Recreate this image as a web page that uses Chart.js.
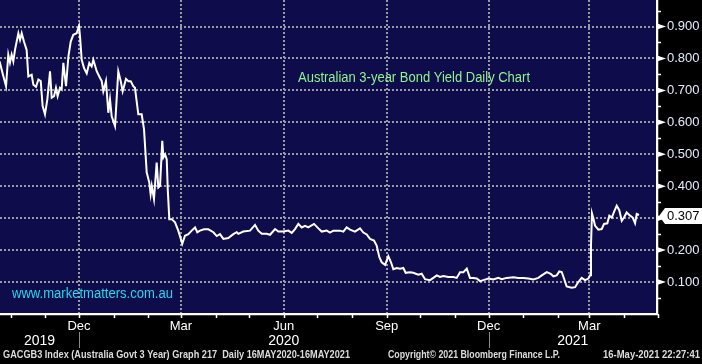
<!DOCTYPE html>
<html><head><meta charset="utf-8">
<script src="https://cdn.jsdelivr.net/npm/chart.js@4"></script>
<style>html,body{margin:0;padding:0;background:#000;}canvas{display:block;}</style>
</head><body>
<canvas id="c" width="702" height="364"></canvas>
<script>
// Days counted from 1 Dec 2019
const days = [-71,-67.6,-65.2,-63.2,-61.7,-60.2,-58.7,-57.2,-54.2,-52.7,-51.2,-49.2,-46.8,-45.3,-42.3,-40.8,-38.4,-36.3,-34.2,-32.5,-30.4,-28.3,-25.9,-24.4,-22.3,-20.6,-19.1,-17.0,-15.5,-14.0,-11.6,-9.5,-7.4,-5.1,-2.1,0,0.9,2.4,4.5,6.9,9.2,11.3,12.8,15.8,18.8,20.3,21.7,24.1,26.2,27.7,29.2,32.2,35.1,37.3,39.0,42.0,44.1,46.2,48.5,50.0,53.0,56.0,58.1,60.5,62.8,64.0,65.0,67.0,69.4,70.9,72.4,74.4,75.4,76.9,78.4,79.3,80.7,82.8,85.8,88.7,92.3,94.7,97.7,100.7,103.7,105.7,108.1,111.7,115.6,120.1,123.1,126.0,129.0,133.4,137.9,140.9,142.4,146.8,152.8,157.3,160.2,163.3,167.7,170.7,175.2,178.1,182.6,187.1,190.1,193.0,196.0,199.0,202.0,204.9,210.0,213.9,216.9,221.4,224.3,227.3,233.2,236.2,239.2,242.2,246.6,251.1,254.1,257.1,260.1,263.6,266.0,268.4,270.5,273.5,276.4,278.8,280.9,283.9,286.9,289.8,291.9,295.8,298.7,303.2,306.2,309.2,313.7,316.6,319.7,322.6,325.6,330.0,334.5,337.5,340.5,343.5,346.5,349.4,352.4,355.4,358.4,361.3,365.8,370.2,374.7,377.7,382.2,388.1,392.6,397.1,401.5,406.0,410.5,413.5,418.0,421.5,423.9,426.9,429.2,431.4,433.4,435.8,440.3,443.3,446.2,449.2,452.2,455.2,456.7,457.5,458.4,459.6,461.1,464.1,467.1,469.2,472.1,473.9,476.1,478.1,480.5,482.8,485.0,487.0,489.4,492.4,494.8,496.9,498.4,500.4];
const yields = [0.791,0.744,0.713,0.812,0.787,0.812,0.791,0.827,0.879,0.858,0.879,0.853,0.827,0.744,0.749,0.718,0.711,0.734,0.729,0.651,0.625,0.672,0.760,0.677,0.682,0.708,0.682,0.708,0.703,0.786,0.713,0.806,0.853,0.874,0.879,0.902,0.869,0.796,0.770,0.753,0.786,0.775,0.796,0.760,0.739,0.729,0.697,0.729,0.630,0.672,0.619,0.588,0.760,0.729,0.697,0.736,0.729,0.729,0.713,0.708,0.625,0.625,0.578,0.443,0.412,0.375,0.401,0.360,0.474,0.396,0.401,0.542,0.490,0.500,0.484,0.391,0.297,0.297,0.287,0.261,0.220,0.245,0.250,0.261,0.271,0.256,0.261,0.265,0.265,0.256,0.244,0.250,0.235,0.238,0.250,0.256,0.251,0.258,0.261,0.279,0.261,0.251,0.251,0.248,0.266,0.258,0.258,0.261,0.254,0.266,0.282,0.271,0.276,0.271,0.282,0.268,0.258,0.261,0.255,0.261,0.261,0.258,0.271,0.264,0.258,0.268,0.255,0.249,0.235,0.230,0.214,0.178,0.162,0.154,0.181,0.162,0.140,0.144,0.142,0.144,0.129,0.131,0.129,0.123,0.126,0.109,0.106,0.113,0.121,0.116,0.119,0.116,0.116,0.113,0.131,0.131,0.142,0.113,0.113,0.111,0.103,0.106,0.111,0.108,0.113,0.109,0.113,0.115,0.113,0.113,0.111,0.108,0.113,0.121,0.131,0.126,0.118,0.121,0.133,0.131,0.111,0.086,0.082,0.084,0.100,0.113,0.106,0.111,0.121,0.214,0.315,0.300,0.277,0.264,0.266,0.282,0.284,0.308,0.302,0.320,0.339,0.325,0.292,0.302,0.318,0.308,0.302,0.284,0.313,0.310];
const xTickDates = ['2019-12-01','2020-03-01','2020-06-01','2020-09-01','2020-12-01','2021-03-01'];
const xTickLabels = ['Dec','Mar','Jun','Sep','Dec','Mar'];
const yearLabels = ['2019','2020','2021'];
const yearBreakDates = ['2019-12-01','2020-12-01'];
const yTicks = [0.1,0.2,0.3,0.4,0.5,0.6,0.7,0.8,0.9];
const lastValue = 0.307;
const titleText = 'Australian 3-year Bond Yield Daily Chart';
const siteText = 'www.marketmatters.com.au';
const footerLeft = 'GACGB3 Index (Australia Govt 3 Year) Graph 217  Daily 16MAY2020-16MAY2021';
const footerMid = 'Copyright\u00A9 2021 Bloomberg Finance L.P.';
const footerRight = '16-May-2021 22:27:41';

const ORIGIN = Date.parse('2019-12-01');
const dayOf = s => (Date.parse(s) - ORIGIN) / 864e5;
const FONT = 'Liberation Sans';
const NAVY = '#0f0c4b';

function fitText(ctx, text, left, right, y, font, color) {
  ctx.save();
  ctx.font = font; ctx.fillStyle = color; ctx.textBaseline = 'middle'; ctx.textAlign = 'left';
  const w = ctx.measureText(text).width;
  const k = (right - left) / w;
  ctx.translate(left, y); ctx.scale(k, 1);
  ctx.fillText(text, 0, 0);
  ctx.restore();
}

const deco = {
  id: 'deco',
  beforeDraw(chart) {
    const {ctx, chartArea: a} = chart;
    ctx.save();
    ctx.fillStyle = '#000'; ctx.fillRect(0, 0, chart.width, chart.height);
    ctx.fillStyle = NAVY; ctx.fillRect(a.left, a.top, a.right - a.left, a.bottom - a.top);
    ctx.restore();
  },
  afterDraw(chart) {
    const {ctx, chartArea: a, scales: {x, y}} = chart;
    ctx.save();
    ctx.strokeStyle = '#fff'; ctx.lineWidth = 1.5; ctx.setLineDash([]);
    ctx.beginPath();
    ctx.moveTo(a.left, a.bottom + 0.5); ctx.lineTo(a.right + 1, a.bottom + 0.5);
    ctx.moveTo(a.right + 0.5, a.top); ctx.lineTo(a.right + 0.5, a.bottom + 1);
    ctx.stroke();
    // month minor ticks
    ctx.beginPath();
    for (let yy = 2019; yy <= 2021; yy++) for (let mm = 0; mm < 12; mm++) {
      const d = (Date.UTC(yy, mm, 1) - ORIGIN) / 864e5;
      if (d < x.min || d > x.max + 1) continue;
      const px = Math.round(x.getPixelForValue(d)) + 0.5;
      ctx.moveTo(px, a.bottom); ctx.lineTo(px, a.bottom + 4);
    }
    // y minor ticks
    for (let v = 0.05; v < y.max; v += 0.1) {
      const py = Math.round(y.getPixelForValue(v)) + 0.5;
      ctx.moveTo(a.right, py); ctx.lineTo(a.right + 4, py);
    }
    ctx.stroke();
    // major arrows
    ctx.fillStyle = '#fff';
    yTicks.forEach(v => {
      const py = y.getPixelForValue(v);
      ctx.beginPath(); ctx.moveTo(a.right, py - 3); ctx.lineTo(a.right + 9, py); ctx.lineTo(a.right, py + 3); ctx.closePath(); ctx.fill();
    });
    // last value tag
    const yv = y.getPixelForValue(lastValue);
    ctx.beginPath();
    ctx.moveTo(a.right + 2, yv); ctx.lineTo(a.right + 8, yv - 8); ctx.lineTo(chart.width, yv - 8);
    ctx.lineTo(chart.width, yv + 8); ctx.lineTo(a.right + 8, yv + 8); ctx.closePath(); ctx.fill();
    ctx.fillStyle = '#000'; ctx.font = '13px ' + FONT; ctx.textBaseline = 'middle'; ctx.textAlign = 'left';
    ctx.fillText(lastValue.toFixed(3), a.right + 10, yv + 0.5);
    // year separators and labels
    ctx.strokeStyle = '#8a8a8a'; ctx.lineWidth = 1;
    const breaks = yearBreakDates.map(s => x.getPixelForValue(dayOf(s)));
    ctx.beginPath();
    breaks.forEach(px => { const p = Math.round(px) + 0.5; ctx.moveTo(p, 332); ctx.lineTo(p, 348); });
    ctx.stroke();
    const edges = [a.left, ...breaks, a.right];
    ctx.fillStyle = '#fff'; ctx.font = '14px ' + FONT; ctx.textAlign = 'center';
    yearLabels.forEach((t, i) => ctx.fillText(t, (edges[i] + edges[i + 1]) / 2, 341));
    ctx.restore();
    fitText(ctx, titleText, 298, 530, 78, '14px ' + FONT, '#8ef58e');
    fitText(ctx, siteText, 12, 173, 294, '14px ' + FONT, '#22d8f2');
    fitText(ctx, footerLeft, 3, 350, 355, 'bold 11px ' + FONT, '#dcdcdc');
    fitText(ctx, footerMid, 388, 560, 355, 'bold 11px ' + FONT, '#dcdcdc');
    fitText(ctx, footerRight, 603, 700, 355, 'bold 11px ' + FONT, '#dcdcdc');
  }
};

const gridOpts = {color: '#9a9aa2', lineWidth: 2, drawTicks: false};
const borderOpts = {display: true, color: '#fff', width: 1.5, dash: [2, 2]};

new Chart(document.getElementById('c'), {
  type: 'line',
  data: {datasets: [{
    data: days.map((d, i) => ({x: d, y: yields[i]})),
    borderColor: '#fff', borderWidth: 2, pointRadius: 0, tension: 0, fill: false
  }]},
  options: {
    responsive: false, animation: false, devicePixelRatio: 1,
    layout: {padding: 0},
    plugins: {legend: {display: false}, tooltip: {enabled: false}, title: {display: false}},
    scales: {
      x: {
        type: 'linear', position: 'bottom', min: -70.6, max: 516.5,
        afterBuildTicks: s => { s.ticks = xTickDates.map(d => ({value: dayOf(d)})); },
        afterFit: s => { s.height = 50; s.paddingLeft = 0; s.paddingRight = 0; },
        ticks: {autoSkip: false, maxRotation: 0, padding: 5, color: '#fff',
          font: {family: FONT, size: 13}, callback: (v, i) => xTickLabels[i]},
        grid: gridOpts, border: borderOpts
      },
      y: {
        type: 'linear', position: 'right', min: 0, max: 0.983,
        afterBuildTicks: s => { s.ticks = yTicks.map(v => ({value: v})); },
        afterFit: s => { s.width = 45; s.paddingTop = 0; s.paddingBottom = 0; },
        ticks: {padding: 10, color: '#e4ecff', font: {family: FONT, size: 13},
          callback: v => Number(v).toFixed(3)},
        grid: gridOpts, border: borderOpts
      }
    }
  },
  plugins: [deco]
});
</script>
</body></html>
